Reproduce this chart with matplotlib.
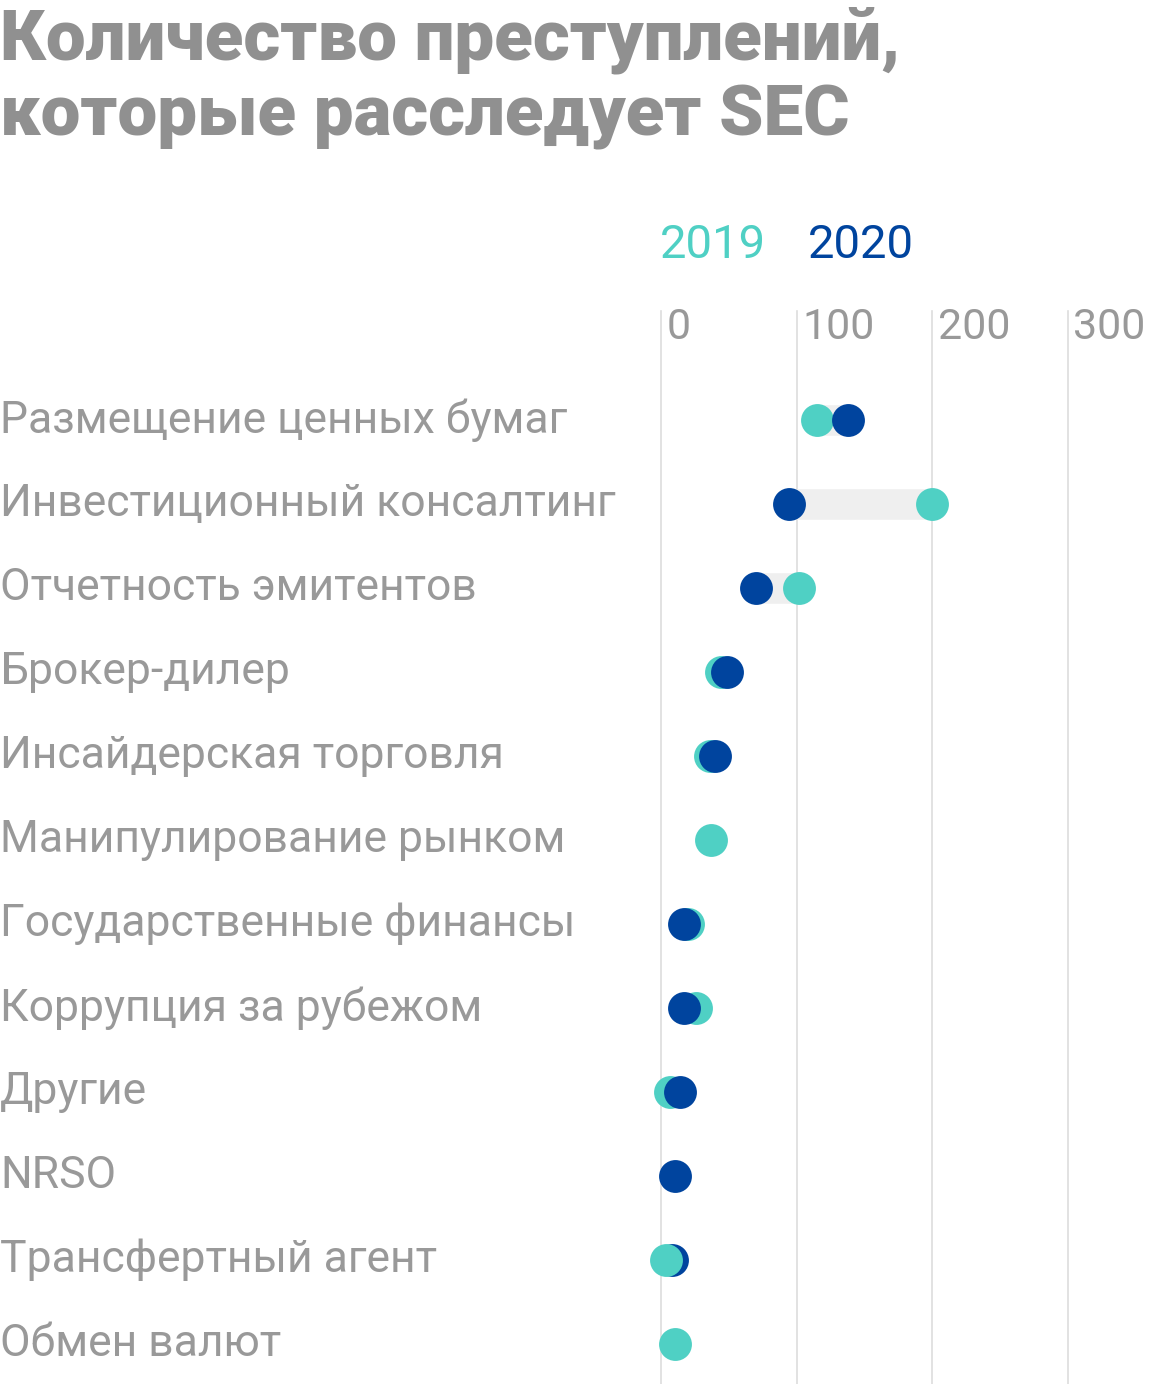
import numpy as np
import matplotlib.pyplot as plt
import matplotlib.transforms as mtransforms

plt.rcParams['font.family'] = ['Roboto', 'DejaVu Sans']

categories = ["Размещение ценных бумаг", "Инвестиционный консалтинг", "Отчетность эмитентов",
              "Брокер-дилер", "Инсайдерская торговля", "Манипулирование рынком",
              "Государственные финансы", "Коррупция за рубежом", "Другие", "NRSO",
              "Трансфертный агент", "Обмен валют"]
v2019 = [115, 200, 102, 44, 36, 37, 20, 26, 7, np.nan, 4, 10]
v2020 = [138, 94, 70, 49, 40, np.nan, 17, 17, 14, 10, 8, np.nan]
ticks = [0, 100, 200, 300]

C19, C20, GREY = "#4fd0c4", "#00449e", "#999999"
W, H = 1160, 1384
fig = plt.figure(figsize=(W / 100, H / 100), dpi=100)

top, bottom = 378, 1386
ax = fig.add_axes([661 / W, 1 - bottom / H, 407 / W, (bottom - top) / H])
ax.set_xlim(0, 300)
ax.set_ylim(len(categories) - 0.5, -0.5)
ax.axis("off")

tr = mtransforms.blended_transform_factory(ax.transData, ax.transAxes)
for t in ticks:
    ax.plot([t, t], [0, 1.066], transform=tr, color="#dddddd", lw=1.2, clip_on=False, zorder=0)
    ax.text(t + 4, 1.05, str(t), transform=tr, fontsize=31, color=GREY, ha="left", va="center")

y = np.arange(len(categories))
for i in y:
    a, b = v2019[i], v2020[i]
    if not (np.isnan(a) or np.isnan(b)):
        ax.plot([a, b], [i, i], color="#efefef", lw=22, solid_capstyle="butt", zorder=1)
    z19 = 4 if categories[i] == "Трансфертный агент" else 2
    ax.scatter([b], [i], s=560, color=C20, zorder=3, clip_on=False, linewidths=0)
    ax.scatter([a], [i], s=560, color=C19, zorder=z19, clip_on=False, linewidths=0)
    fig.text(0, 1 - (420 + 84 * i) / H, categories[i], fontsize=32, color=GREY,
             ha="left", va="center")

fig.text(0, 1 - 40 / H, "Количество преступлений,", fontsize=51, fontweight="black",
         color="#909090", ha="left", va="center")
fig.text(0, 1 - 117 / H, "которые расследует SEC", fontsize=51, fontweight="black",
         color="#909090", ha="left", va="center")
fig.text(660 / W, 1 - 245 / H, "2019", fontsize=34, color=C19, ha="left", va="center")
fig.text(808 / W, 1 - 245 / H, "2020", fontsize=34, color=C20, ha="left", va="center")

fig.savefig("out.png", dpi=100)
